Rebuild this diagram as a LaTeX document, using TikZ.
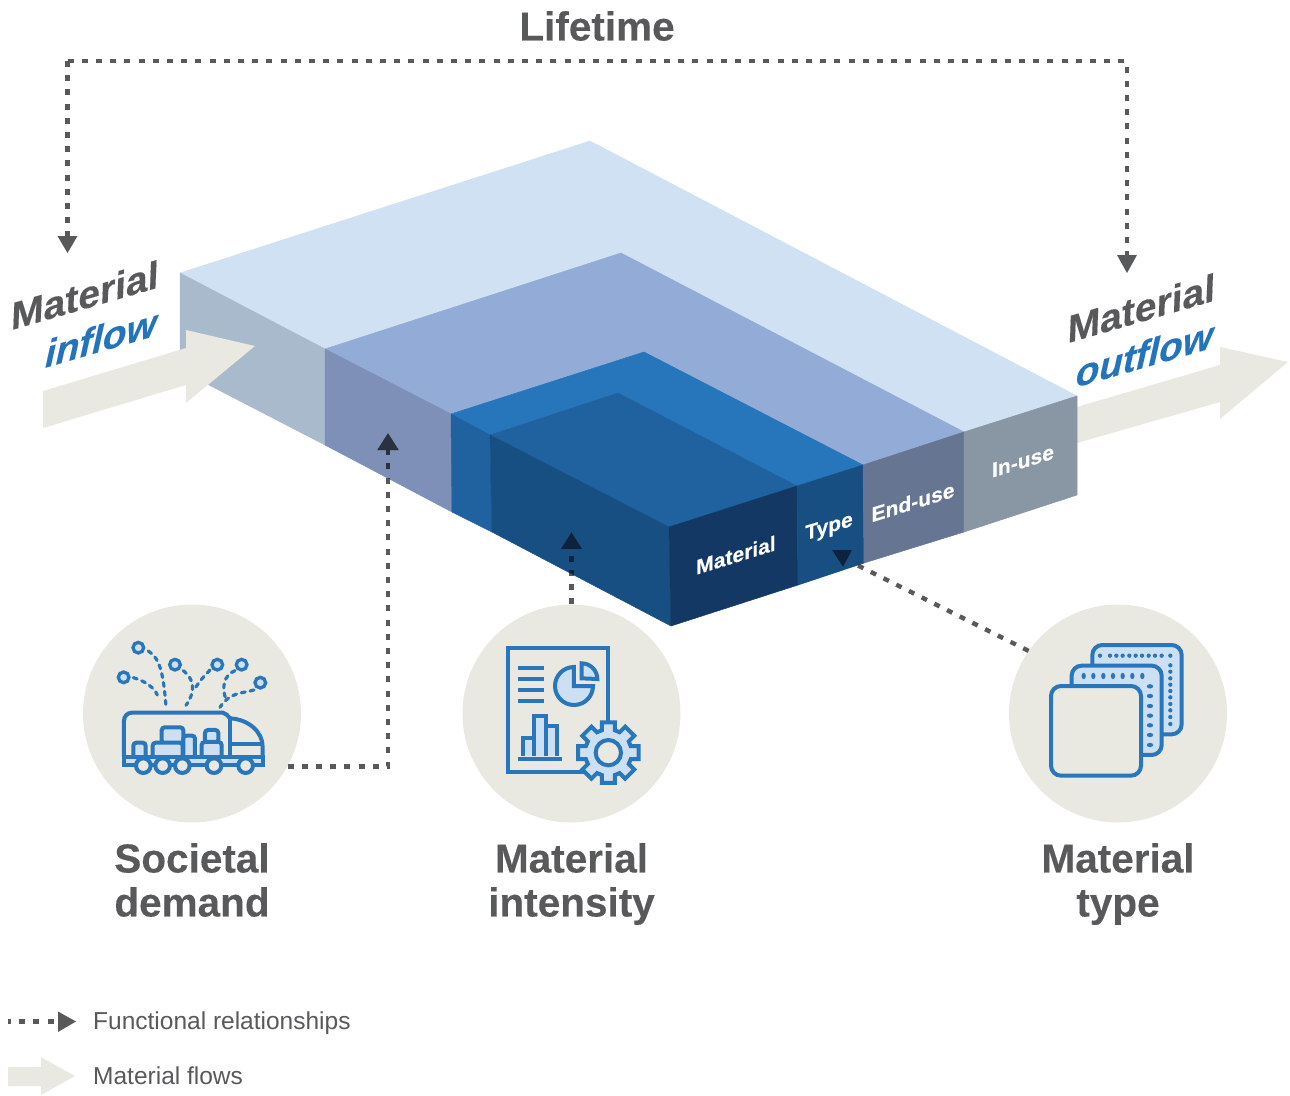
\documentclass[tikz,border=0pt]{standalone}
\usepackage{fontspec}
\setmainfont{Liberation Sans}[BoldFeatures={FakeBold=0.25},BoldItalicFeatures={FakeBold=0.25}]
\usetikzlibrary{arrows.meta}
\definecolor{beigec}{HTML}{E9E8E1}
\definecolor{grayt}{HTML}{58595B}
\definecolor{bluet}{HTML}{2474BB}
\definecolor{iconb}{HTML}{2976BB}
\definecolor{iconl}{HTML}{CDE0F2}
\definecolor{topa}{HTML}{CFE1F2}
\definecolor{topb}{HTML}{93ABD7}
\definecolor{topc}{HTML}{2776BC}
\definecolor{topd}{HTML}{20619F}
\definecolor{sidea}{HTML}{A9BACC}
\definecolor{sideb}{HTML}{7E90B7}
\definecolor{sidec}{HTML}{20619F}
\definecolor{sided}{HTML}{184F82}
\definecolor{fronta}{HTML}{133863}
\definecolor{frontb}{HTML}{184F82}
\definecolor{frontc}{HTML}{667592}
\definecolor{frontd}{HTML}{8997A4}
\colorlet{relc}{grayt}
\tikzset{
  rel/.style={draw=relc,line width=4.4pt,dash pattern=on 6pt off 8.2pt,
    -{Triangle[length=17pt,width=20pt,fill=relc,color=relc]}},
  relline/.style={draw=relc,line width=4.4pt,dash pattern=on 6pt off 8.2pt},
  bubble/.style={circle,fill=beigec,minimum size=218pt,inner sep=0pt},
  bigt/.style={font=\bfseries\fontsize{40.5}{44}\selectfont,text=grayt,align=center},
  sheart/.style={cm={1,.29,0.04,1,(0,0)},inner sep=0pt},
  flowt/.style={sheart,font=\bfseries\fontsize{39}{40}\selectfont,text=grayt},
  flowi/.style={sheart,font=\bfseries\itshape\fontsize{38.5}{40}\selectfont,text=bluet},
  facet/.style={cm={1,.31,0,1,(0,0)},inner sep=0pt,font=\bfseries\fontsize{21}{24}\selectfont,text=white},
  legt/.style={anchor=base west,inner sep=0pt,font=\fontsize{24.5}{28}\selectfont,text=grayt},
  flowarrow/.style={fill=beigec},
  ic/.style={draw=iconb,line width=4pt,line join=miter},
  icfill/.style={ic,fill=iconl},
  iczero/.style={ic,fill=beigec},
  icdot/.style={draw=iconb,line width=3.3pt,fill=iconl},
  icdash/.style={draw=iconb,line width=3.2pt,line cap=round,dash pattern=on 4pt off 5pt},
  face/.style={fill=#1,draw=#1,line width=0.5pt,line join=round},
}
\begin{document}
\begin{tikzpicture}[x=1pt,y=-1pt]
\useasboundingbox (0,0) rectangle (1290,1095);
% outflow arrow beneath the block
\fill[flowarrow] (1070,409) -- (1220,365) -- (1220,347) -- (1288,362) -- (1220,419) -- (1220,402) -- (1070,445) -- cycle;
% block
\filldraw[face=topa] (180,273) -- (590,141) -- (1077,396) -- (964,432) -- (621,253) -- (325,349) -- cycle;
\filldraw[face=topb] (325,349) -- (621,253) -- (964,432) -- (863,465) -- (644,352) -- (451,414) -- cycle;
\filldraw[face=topc] (451,414) -- (644,352) -- (863,465) -- (797,486) -- (618,393) -- (490,435) -- cycle;
\filldraw[face=topd] (490,435) -- (618,393) -- (797,486) -- (669,527) -- cycle;
\filldraw[face=sidea] (180,273) -- (325,349) -- (325,445) -- (180,370) -- cycle;
\filldraw[face=sideb] (325,349) -- (451,414) -- (452,512) -- (325,445) -- cycle;
\filldraw[face=sidec] (451,414) -- (490,435) -- (492,532) -- (452,512) -- cycle;
\filldraw[face=sided] (490,435) -- (669,527) -- (671,626) -- (492,532) -- cycle;
\filldraw[face=fronta] (669,527) -- (797,486) -- (798,585) -- (671,626) -- cycle;
\filldraw[face=frontb] (797,486) -- (863,465) -- (864,563) -- (798,585) -- cycle;
\filldraw[face=frontc] (863,465) -- (964,432) -- (964,532) -- (864,563) -- cycle;
\filldraw[face=frontd] (964,432) -- (1077,396) -- (1077,495) -- (964,532) -- cycle;
% inflow arrow
\fill[flowarrow] (43,391) -- (186,348) -- (186,330) -- (255,346) -- (186,403) -- (186,385) -- (43,428) -- cycle;
% face labels
\node[facet] (lblMat) at (736,555) {Material};
\node[facet] (lblType) at (829,528) {Type};
\node[facet] (lblEnd) at (913,502) {End-use};
\node[facet] (lblIn) at (1023,461) {In-use};
% flow labels
\node[flowt] (inA) at (85,295) {Material};
\node[flowi] (inB) at (101,338) {inflow};
\node[flowt] (outA) at (1141.5,308) {Material};
\node[flowi] (outB) at (1144.5,354) {outflow};
% bubbles
\node[bubble] (soc) at (192,713.5) {};
\node[bubble] (mi) at (571.5,713.5) {};
\node[bubble] (mt) at (1118,713.5) {};
% connectors
\coordinate (lifeTopL) at (67.5,61);
\coordinate (lifeTopR) at (1127,61);
\coordinate (lifeR) at (1127,256);
\coordinate (tipA) at (388,433);
\coordinate (tipB) at (571.5,532);
\coordinate (tipC) at (855,564);
\coordinate (headCl) at (832,550);
\coordinate (headCr) at (852,550);
\coordinate (headCt) at (843,567);
\coordinate (lifeStart) at (67.5,236);
\draw[relline] (lifeTopL) -- (lifeTopR) -- (lifeR);
\draw[relline] (lifeTopL) -- (lifeStart);
\fill[relc] (57.5,236) -- (77.5,236) -- (67.5,253) -- cycle;
\fill[relc] (1117,255) -- (1137,255) -- (1127,273) -- cycle;
\draw[rel] (soc.-29.4) -| (tipA);
\draw[rel] (mi.north) -- (tipB);
\draw[relline] (mt.145.6) -- (tipC);
\fill[relc] (headCl) -- (headCr) -- (headCt) -- cycle;
% darker where connectors cross the block
\begin{scope}
  \definecolor{relc}{HTML}{2A3242}
  \clip (325,349) -- (451,414) -- (452,512) -- (325,445) -- cycle;
  \draw[rel] (soc.-29.4) -| (tipA);
\end{scope}
\begin{scope}
  \definecolor{relc}{HTML}{0C2340}
  \clip (490,435) -- (669,527) -- (671,626) -- (492,532) -- cycle;
  \draw[rel] (mi.north) -- (tipB);
\end{scope}
\begin{scope}
  \definecolor{relc}{HTML}{0C2340}
  \clip (797,486) -- (863,465) -- (864,563) -- (798,585) -- cycle;
  \draw[relline] (mt.145.6) -- (tipC);
  \fill[relc] (headCl) -- (headCr) -- (headCt) -- cycle;
\end{scope}
% titles
\node[bigt] (life) at (597,26) {Lifetime};
\node[bigt] (socl) at (192,880) {Societal\\demand};
\node[bigt] (mil) at (571.5,884) {Material\\intensity};
\node[bigt] (mtl) at (1118,884) {Material\\type};
% truck icon
\begin{scope}[shift={(80,600)},x=0.3333pt,y=-0.3333pt]
  \draw[ic] (132,470) -- (132,362) to[out=90,in=180] (156,338) -- (428,338) to[out=0,in=140] (450,355);
  \draw[ic] (450,355) .. controls (505,358) and (548,395) .. (548,440) -- (548,470);
  \draw[ic] (450,355) -- (450,468);
  \draw[ic] (450,432) -- (548,432);
  \filldraw[icfill,rounded corners=3pt] (160,468) -- (160,428) -- (197,428) -- (197,468);
  \filldraw[icfill,rounded corners=3pt] (245,430) -- (245,382) -- (310,382) -- (310,430) -- cycle;
  \filldraw[icfill,rounded corners=3pt] (310,468) -- (310,407) -- (345,407) -- (345,468);
  \filldraw[icfill,rounded corners=3pt] (218,468) -- (218,428) -- (308,428) -- (308,468);
  \filldraw[icfill,rounded corners=3pt] (375,428) -- (375,390) -- (415,390) -- (415,428) -- cycle;
  \filldraw[icfill,rounded corners=3pt] (365,468) -- (365,426) -- (425,426) -- (425,468);
  \filldraw[ic,fill=iconl] (132,470) rectangle (548,495);
  \foreach \wx in {190,248,307,402,497}
    \filldraw[iczero] (\wx,497) circle (22);
  \draw[icdash] (205,153) .. controls (240,175) and (250,220) .. (258,318);
  \draw[icdash] (160,233) .. controls (195,243) and (222,262) .. (232,285);
  \draw[icdash] (310,212) .. controls (340,235) and (350,270) .. (318,316);
  \draw[icdash] (390,210) .. controls (372,228) and (358,245) .. (345,265);
  \draw[icdash] (465,212) .. controls (430,225) and (425,265) .. (438,298);
  \draw[icdash] (522,270) .. controls (490,280) and (450,275) .. (420,322);
  \foreach \nx/\ny in {175/143,131/232,285/194,412/194,485/194,541/248}
    \filldraw[icdot] (\nx,\ny) circle (16);
\end{scope}
% report icon
\begin{scope}[shift={(460,600)},x=0.3333pt,y=-0.3333pt]
  \draw[ic] (445,365) -- (445,143) -- (143,143) -- (143,515) -- (375,515);
  \foreach \ly in {204,237,270,302}
    \draw[ic] (174,\ly) -- (253,\ly);
  \filldraw[icfill] (342,258) -- (342,201) arc (-90:-360:57) -- cycle;
  \filldraw[icfill] (365,235) -- (365,190) arc (-90:0:47) -- cycle;
  \filldraw[icfill] (190,468) -- (190,413) -- (222,413) -- (222,468);
  \filldraw[icfill] (222,468) -- (222,347) -- (258,347) -- (258,468);
  \filldraw[icfill] (258,468) -- (258,377) -- (292,377) -- (292,468);
  \draw[ic] (174,476) -- (305,476);
  \begin{scope}[shift={(445,458)}]
    \filldraw[icfill] (-16:70) \foreach \ga in {0,45,...,315} {
       -- (\ga-16:70) -- (\ga-12:93) -- (\ga+12:93) -- (\ga+16:70) } -- cycle;
    \filldraw[iczero] (0,0) circle (38);
  \end{scope}
\end{scope}
% layers icon
\begin{scope}[shift={(1005,600)},x=0.3333pt,y=-0.3333pt]
  \filldraw[icfill,rounded corners=10pt] (262,135) rectangle (530,403);
  \filldraw[icfill,rounded corners=10pt] (200,197) rectangle (470,465);
  \filldraw[iczero,rounded corners=10pt] (138,258) rectangle (408,527);
  \foreach \dx in {285,315,334,353,373,392,411,431,450,470,496}
    \fill[iconb] (\dx,167) circle (6.5);
  \foreach \dy in {196,215,235,254,273,292,312,331,351,372}
    \fill[iconb] (496,\dy) circle (6.5);
  \foreach \dx in {236,265,295,324,353,382,412}
    \fill[iconb] (\dx,228) ellipse (6.5 and 9.5);
  \foreach \dy in {259,288,318,347,376,405,435}
    \fill[iconb] (435,\dy) ellipse (9.5 and 6.5);
\end{scope}
% legend
\coordinate (legS) at (8,1021.5);
\coordinate (legE) at (58,1021.5);
\draw[relline,dash phase=3pt] (legS) -- (legE);
\fill[relc] (58,1011.5) -- (76,1021.5) -- (58,1032) -- cycle;
\node[legt] (legA) at (93,1029) {Functional relationships};
\fill[flowarrow] (8,1067) -- (41,1067) -- (41,1057) -- (75,1076) -- (41,1095) -- (41,1086) -- (8,1086) -- cycle;
\node[legt] (legB) at (93,1084) {Material flows};
\end{tikzpicture}
\end{document}
